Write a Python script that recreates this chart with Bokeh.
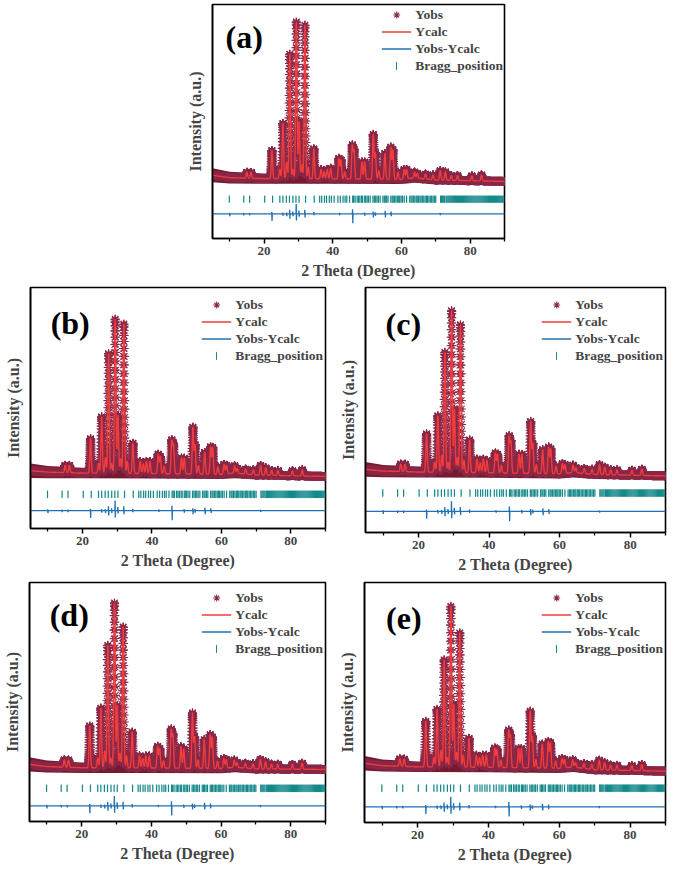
import numpy as np
from bokeh.plotting import figure
from bokeh.layouts import column, row
from bokeh.models import Range1d, FixedTicker, Legend, LegendItem, Spacer, Label
from bokeh.embed import file_html
from bokeh.resources import INLINE

# ---------------- data (intensity in arbitrary units) ----------------
x_ticks = [20, 40, 60, 80]
x_minor = [10, 30, 50, 70, 90]

peak_pos = [15.0, 16.2, 22.3, 24.6, 25.5, 26.6, 27.5, 28.4, 29.4, 30.2, 31.0, 31.9, 32.9,
            34.5, 36.6, 37.5, 38.4, 39.4, 41.8, 42.4, 43.5, 45.7, 46.2, 48.5, 49.3, 51.8,
            52.4, 53.4, 55.2, 56.9, 57.5, 59.0, 60.8, 61.5, 63.8, 64.6, 67.0, 69.2, 71.3,
            72.8, 74.5, 76.3, 80.5, 83.3]

h_a = [2.5, 2.5, 12.0, 4.0, 23.7, 7.0, 53.3, 4.0, 67.0, 24.5, 6.0, 65.7, 5.0, 12.8, 4.0, 3.0,
       4.0, 4.5, 8.7, 8.0, 3.0, 14.0, 12.0, 7.3, 7.3, 19.0, 11.0, 3.5, 11.0, 13.6, 12.5, 3.0,
       4.0, 4.0, 2.5, 2.0, 2.0, 2.0, 4.0, 3.5, 2.0, 2.0, 2.0, 2.5]
h_b = [3.0, 3.0, 14.3, 4.0, 23.4, 6.5, 49.7, 4.0, 64.0, 24.0, 6.0, 62.0, 5.0, 12.5, 5.0, 4.0,
       5.0, 5.0, 8.0, 7.0, 3.0, 13.5, 12.0, 6.5, 6.5, 19.3, 12.0, 3.5, 9.0, 11.2, 11.0, 3.0,
       4.0, 3.5, 3.0, 2.0, 2.0, 2.0, 4.0, 3.0, 2.0, 2.0, 2.0, 2.5]
h_c = [3.0, 3.0, 15.6, 4.0, 23.0, 7.0, 49.0, 4.0, 66.0, 25.8, 6.0, 60.3, 5.0, 13.3, 5.5, 4.0,
       5.5, 5.0, 8.0, 7.5, 3.0, 14.6, 12.5, 7.7, 7.7, 21.0, 12.0, 3.5, 9.7, 10.7, 10.0, 3.0,
       4.0, 3.5, 3.0, 2.0, 2.0, 2.0, 4.0, 3.0, 2.0, 2.0, 2.0, 2.5]
h_d = [3.0, 3.0, 17.5, 4.0, 25.0, 7.0, 51.3, 4.0, 69.0, 26.0, 6.0, 59.0, 5.0, 15.0, 5.0, 4.0,
       5.0, 5.0, 9.0, 8.0, 3.0, 15.7, 13.5, 9.0, 8.0, 23.0, 13.0, 3.5, 12.0, 14.0, 13.0, 3.0,
       4.0, 3.5, 3.0, 2.0, 2.0, 2.0, 4.0, 3.0, 2.0, 2.0, 2.0, 2.5]
h_e = [3.0, 3.0, 19.0, 4.0, 24.0, 7.0, 44.7, 4.0, 67.0, 26.0, 6.0, 56.0, 5.0, 12.0, 5.0, 4.0,
       5.0, 5.0, 8.0, 7.5, 3.0, 15.0, 13.0, 8.0, 8.0, 23.5, 13.0, 3.5, 10.0, 11.0, 10.5, 3.0,
       4.0, 3.5, 3.0, 2.0, 2.0, 2.0, 4.0, 3.0, 2.0, 2.0, 2.0, 2.5]

bg_x = [5, 10, 20, 40, 60, 64, 70, 90]
bg_a = [27.0, 26.0, 25.6, 25.5, 25.3, 25.9, 25.0, 24.4]
bg_b = [24.0, 23.4, 23.0, 22.8, 22.5, 23.0, 22.2, 21.6]
bg_c = [25.8, 25.1, 24.7, 24.4, 24.0, 24.5, 23.7, 23.1]
bg_d = [23.9, 23.0, 22.5, 22.4, 22.2, 22.7, 22.0, 21.8]
bg_e = [24.7, 23.7, 23.2, 23.0, 22.6, 23.1, 22.0, 21.4]
obs_scatter = [3.0, 2.5, 2.2, 2.1, 2.0, 2.1, 1.9, 1.7]

bragg_pos = [9.9, 14.1, 15.8, 20.2, 22.5, 24.6, 25.5, 26.5, 27.4, 28.4, 29.3, 30.2, 32.1, 34.6,
             36.2, 36.8, 37.6, 38.2, 39.0, 39.6, 40.4, 41.5, 42.2, 43.0, 43.6, 44.1, 44.9, 45.8,
             46.1, 46.5, 47.1, 47.5, 47.9, 48.4, 48.7, 49.3, 49.6, 50.0, 50.4, 50.9, 51.7, 52.1,
             52.5, 52.9, 53.3, 53.8, 54.6, 55.0, 55.3, 55.7, 56.1, 56.9, 57.3, 57.6, 58.0, 58.4,
             58.8, 59.2, 59.5, 59.9, 60.3, 60.8, 61.5, 62.4, 62.8, 63.1, 63.5, 63.9, 64.3, 64.6,
             65.0, 65.4, 65.7, 66.1, 66.5, 66.9, 67.3, 67.6, 68.0, 68.4, 68.8, 69.2, 69.6, 70.0,
             71.4, 71.7, 72.0, 72.3, 72.6, 73.0, 73.3, 73.6, 73.9, 74.2, 74.5, 74.8, 75.1, 75.4,
             75.7, 76.0, 76.3, 76.6, 76.9, 77.2, 77.5, 77.8, 78.1, 78.4, 78.7, 79.0, 79.3, 79.6,
             79.9, 80.2, 80.5, 80.8, 81.1, 81.4, 81.7, 82.0, 82.3, 82.6, 82.9, 83.2, 83.5, 83.8,
             84.1, 84.4, 84.7, 85.0, 85.3, 85.6, 85.9, 86.2, 86.5, 86.8, 87.1, 87.4, 87.7, 88.0,
             88.3, 88.6, 88.9, 89.2, 89.5, 89.8]

diff_pos = [10.0, 14.1, 15.8, 22.3, 25.5, 26.6, 27.5, 28.4, 29.4, 30.2, 31.9, 34.5, 42.0,
            45.8, 49.3, 51.8, 52.4, 55.3, 57.0, 71.3]
diff_up = [0.5, 0.4, 0.4, 0.8, 0.6, 0.6, 1.8, 1.0, 4.2, 1.5, 1.8, 0.8, 0.5, 2.0, 0.6, 1.0,
           0.7, 1.3, 1.0, 0.4]
diff_dn = [1.0, 0.6, 0.6, 3.0, 0.8, 1.0, 2.0, 1.0, 2.8, 1.2, 1.5, 0.6, 0.5, 4.0, 0.8, 1.5,
           0.8, 1.5, 1.0, 0.5]

legend_labels = ["Yobs", "Ycalc", "Yobs-Ycalc", "Bragg_position"]

# ---------------- styling / layout ----------------
FONT = "Liberation Serif"
C_OBS = "#8a2848"
C_BAND = "#761a31"
C_CALC = "#f03c3c"
C_DIFF = "#2270b5"
C_BRAGG = "#16898a"
PEAK_SIGMA = 0.2
X_LO, X_HI = 5, 90
LEG_FS = "13.5px"
ROW_H = 17
TICK_HALF = 1.4   # half length of a Bragg tick, in axis units

panels = [
    dict(tag="a", h=h_a, bg=bg_a, fw=292, fh=234, bl=62, br=10, bt=4, bb=46,
         bragg_y=16.8, diff_y=10.5, lx=8.8, ly=86.0, lm=1, lp=1, lt=0),
    dict(tag="b", h=h_b, bg=bg_b, fw=295, fh=241, bl=30, br=10, bt=3, bb=50,
         bragg_y=14.2, diff_y=7.4, lx=10.8, ly=85.3, lm=2, lp=2, lt=6),
    dict(tag="c", h=h_c, bg=bg_c, fw=300, fh=245, bl=30, br=4, bt=3, bb=46,
         bragg_y=16.1, diff_y=8.6, lx=10.7, ly=85.0, lm=2, lp=2, lt=6),
    dict(tag="d", h=h_d, bg=bg_d, fw=296, fh=239, bl=29, br=10, bt=4, bb=49,
         bragg_y=13.9, diff_y=6.5, lx=10.8, ly=86.6, lm=2, lp=2, lt=4),
    dict(tag="e", h=h_e, bg=bg_e, fw=301, fh=240, bl=29, br=4, bt=4, bb=48,
         bragg_y=14.3, diff_y=6.5, lx=11.1, ly=85.3, lm=2, lp=2, lt=4),
]


def profile(x, heights, bg):
    y = np.interp(x, bg_x, bg)
    for p0, h in zip(peak_pos, heights):
        y = y + h * np.exp(-0.5 * ((x - p0) / PEAK_SIGMA) ** 2)
    return y


def make_panel(cfg):
    p = figure(frame_width=cfg["fw"], frame_height=cfg["fh"],
               min_border_left=cfg["bl"], min_border_right=cfg["br"],
               min_border_top=cfg["bt"], min_border_bottom=cfg["bb"],
               x_range=Range1d(X_LO, X_HI), y_range=Range1d(0, 100),
               output_backend="svg", toolbar_location=None)
    p.grid.visible = False
    p.outline_line_color = "black"
    p.outline_line_width = 1.6
    p.background_fill_color = "white"
    p.border_fill_color = "white"

    # observed scatter band
    bgv = np.array(cfg["bg"])
    sc = np.array(obs_scatter)
    p.varea(x=bg_x, y1=bgv - sc, y2=bgv + sc, fill_color=C_BAND)

    # observed points (asterisks)
    xg = np.round(np.arange(X_LO, X_HI + 1e-9, 0.02), 2)
    yg = profile(xg, cfg["h"], cfg["bg"])
    base = np.interp(xg, bg_x, cfg["bg"])
    frac = (xg * 10) % 1
    coarse = np.isclose(frac, 0) | np.isclose(frac, 1)
    keep = ((yg - base) > 0.8) | coarse
    obs_r = p.scatter(xg[keep], yg[keep], marker="asterisk", size=9,
                      line_color=C_OBS, line_width=1.1)

    # calculated profile
    xf = np.arange(X_LO, X_HI + 1e-9, 0.01)
    calc_r = p.line(xf, profile(xf, cfg["h"], cfg["bg"]), line_color=C_CALC, line_width=1.4)

    # difference curve
    b0 = cfg["diff_y"]
    dx, dy = [X_LO], [b0]
    for p0, u, d in zip(diff_pos, diff_up, diff_dn):
        dx += [p0 - 0.1, p0 - 0.03, p0 + 0.03, p0 + 0.1]
        dy += [b0, b0 + u, b0 - d, b0]
    dx.append(X_HI)
    dy.append(b0)
    diff_r = p.line(dx, dy, line_color=C_DIFF, line_width=1.3)

    # Bragg positions (thin vertical bars)
    by = cfg["bragg_y"]
    bragg_r = p.vbar(x=bragg_pos, bottom=by - TICK_HALF, top=by + TICK_HALF, width=0.01,
                     fill_color=C_BRAGG, line_color=C_BRAGG, line_width=1.2)
    # legend stand-in: keeps the Bragg label in the main legend without a glyph
    blank_r = p.scatter(x=[], y=[], marker="dash", line_alpha=0, fill_alpha=0)

    # axes
    xa = p.xaxis[0]
    xa.ticker = FixedTicker(ticks=x_ticks, minor_ticks=x_minor)
    xa.axis_label = "2 Theta (Degree)"
    xa.axis_label_text_font = FONT
    xa.axis_label_text_font_style = "bold"
    xa.axis_label_text_font_size = "16px"
    xa.axis_label_standoff = 4
    xa.major_label_text_font = FONT
    xa.major_label_text_font_style = "bold"
    xa.major_label_text_font_size = "13px"
    xa.major_label_standoff = 3
    xa.major_tick_out = 5
    xa.major_tick_in = 0
    xa.minor_tick_out = 3
    xa.minor_tick_in = 0
    xa.axis_line_width = 1.6
    xa.major_tick_line_width = 1.5
    xa.minor_tick_line_width = 1.3

    ya = p.yaxis[0]
    ya.ticker = FixedTicker(ticks=[])
    ya.axis_label = "Intensity (a.u.)"
    ya.axis_label_text_font = FONT
    ya.axis_label_text_font_style = "bold"
    ya.axis_label_text_font_size = "16px"
    ya.axis_label_standoff = 9
    ya.major_tick_out = 0
    ya.major_tick_in = 0
    ya.minor_tick_out = 0
    ya.minor_tick_in = 0
    ya.major_label_standoff = 0
    ya.axis_line_width = 1.6

    p.add_layout(Label(x=cfg["lx"], y=cfg["ly"], text="(%s)" % cfg["tag"],
                       text_font=FONT, text_font_style="bold",
                       text_font_size="32px", text_baseline="middle",
                       text_color="black"))

    common = dict(location="top_right", margin=cfg["lm"], padding=cfg["lp"],
                  border_line_color=None, background_fill_alpha=0.0,
                  title=" ", title_text_font_size="1px", title_text_alpha=0.0)

    legend = Legend(items=[LegendItem(label=legend_labels[0], renderers=[obs_r]),
                           LegendItem(label=legend_labels[1], renderers=[calc_r]),
                           LegendItem(label=legend_labels[2], renderers=[diff_r]),
                           LegendItem(label=legend_labels[3], renderers=[blank_r])],
                    spacing=0, glyph_width=30, glyph_height=ROW_H, label_height=ROW_H,
                    label_standoff=4, title_standoff=cfg["lt"],
                    label_text_font=FONT, label_text_font_style="bold",
                    label_text_font_size=LEG_FS, **common)
    p.add_layout(legend)

    # second legend only draws the vertical Bragg tick under the other glyphs
    legend2 = Legend(items=[LegendItem(label=" ", renderers=[bragg_r])],
                     spacing=0, glyph_width=1, glyph_height=9, label_height=9,
                     label_width=3, label_standoff=103,
                     title_standoff=int(cfg["lt"] + 3 * ROW_H + 4),
                     label_text_font_size="1px", **common)
    p.add_layout(legend2)
    return p


figs = [make_panel(c) for c in panels]
layout = column(
    row(Spacer(width=150, height=284), figs[0]),
    row(figs[1], figs[2]),
    row(figs[3], figs[4]),
)

open("out.html", "w").write(file_html(layout, INLINE))
